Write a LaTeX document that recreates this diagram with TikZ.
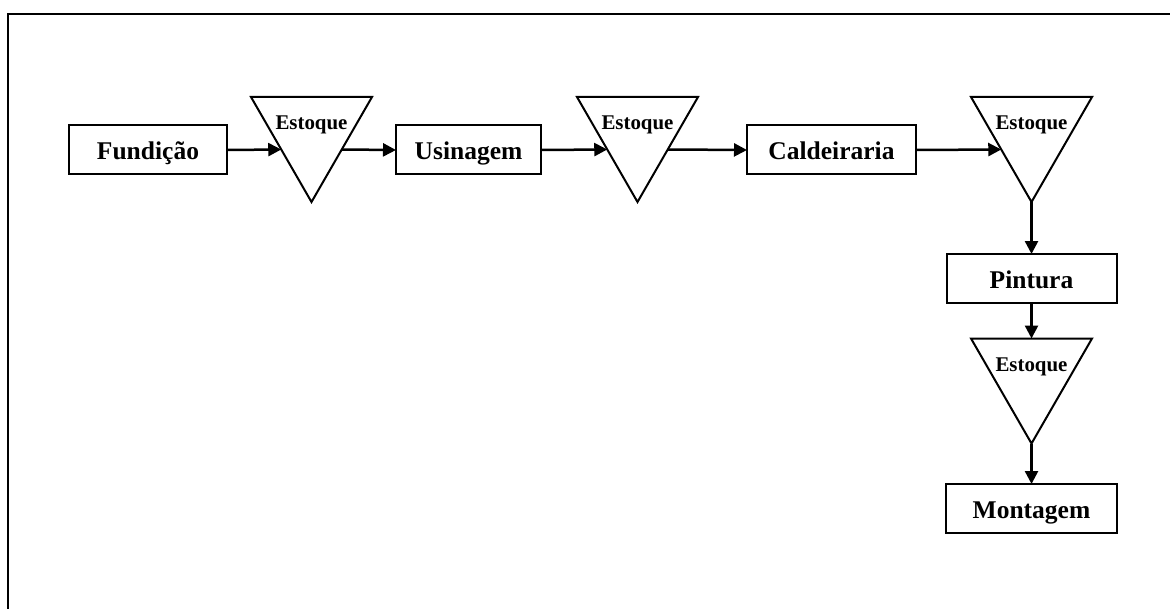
\documentclass[tikz,border=0pt]{standalone}
\usepackage{fontspec}
\setmainfont{Liberation Serif}
\usetikzlibrary{arrows.meta,calc}

\tikzset{
  stagebox/.style={draw, line width=1pt, inner sep=0pt, outer sep=0pt,
    font=\fontsize{12.75}{14}\selectfont\bfseries, text height=10pt, text depth=0pt,
    minimum height=24.5pt},
  stockarea/.style={inner sep=0pt, outer sep=0pt, minimum width=60.5pt, minimum height=52.5pt},
  stockshape/.style={draw, line width=1pt, line join=miter},
  stocklabel/.style={font=\fontsize{10.45}{12}\selectfont\bfseries, anchor=base, inner sep=0pt},
  flow/.style={line width=1.25pt, -{Triangle[length=6.5pt,width=6.5pt]}}
}

\begin{document}
\begin{tikzpicture}[x=0.5pt,y=-0.5pt]
  \useasboundingbox (0,0) rectangle (1170,609);
  \begin{scope}
    \clip (0,0) rectangle (1170,609);
    \draw[line width=1pt] (8,14) rectangle (1190,630);
  \end{scope}

  % process stages
  \node[stagebox, minimum width=79pt]   (fund) at (148,150)    {Fundição};
  \node[stagebox, minimum width=72.5pt] (usin) at (468.5,150)  {Usinagem};
  \node[stagebox, minimum width=84.5pt] (cald) at (831.5,150)  {Caldeiraria};
  \node[stagebox, minimum width=85pt]   (pint) at (1031.5,278.5) {Pintura};
  \node[stagebox, minimum width=85.5pt] (mont) at (1031.5,508.5) {Montagem};

  % stock areas (inverted triangles)
  \node[stockarea] (s1) at (311.5,149.5) {};
  \node[stockarea] (s2) at (637.5,149.5) {};
  \node[stockarea] (s3) at (1031.5,149.5) {};
  \node[stockarea] (s4) at (1031.5,391) {};
  \foreach \s in {s1,s2,s3,s4} {
    \draw[stockshape] (\s.north west) -- (\s.north east) -- (\s.south) -- cycle;
    \node[stocklabel] (\s lbl) at ([yshift=-16.5pt]\s.north) {Estoque};
  }

  % flow between stages
  \draw[flow] (fund.east) -- ($(s1.north west)!0.5!(s1.south)$);
  \draw[flow] ($(s1.north east)!0.5!(s1.south)$) -- (usin.west);
  \draw[flow] (usin.east) -- ($(s2.north west)!0.5!(s2.south)$);
  \draw[flow] ($(s2.north east)!0.5!(s2.south)$) -- (cald.west);
  \draw[flow] (cald.east) -- ($(s3.north west)!0.5!(s3.south)$);
  \draw[flow] (s3.south) -- (pint.north);
  \draw[flow] (pint.south) -- (s4.north);
  \draw[flow] (s4.south) -- (mont.north);
\end{tikzpicture}
\end{document}
